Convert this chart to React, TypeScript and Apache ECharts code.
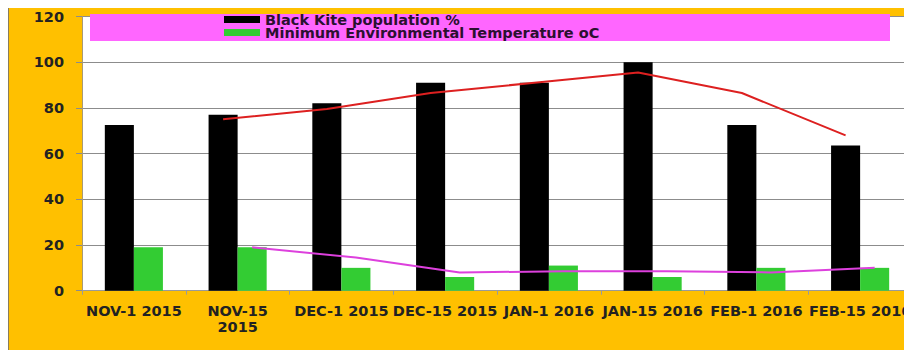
import React, { useEffect, useRef } from "react";
import * as echarts from "echarts";

const categories = [
  "NOV-1 2015",
  "NOV-15\n2015",
  "DEC-1 2015",
  "DEC-15 2015",
  "JAN-1 2016",
  "JAN-15 2016",
  "FEB-1 2016",
  "FEB-15 2016",
];
const kitePopulation = [72.5, 77, 82, 91, 91, 100, 72.5, 63.5];
const minTemperature = [19, 19, 10, 6, 11, 6, 10, 10];
const kiteTrend = [null, 75, 79.5, 86.5, 91, 95.5, 86.5, 68];
const tempTrend = [null, 19, 14.5, 8, 8.5, 8.5, 8, 10];
const yTicks = { min: 0, max: 120, interval: 20 };

const BAR_GAP = 0.44;
const BAR_OFFSET = (1 - BAR_GAP) / 4;

export default function App() {
  const ref = useRef<HTMLDivElement>(null);
  useEffect(() => {
    if (!ref.current) return;
    const chart = echarts.init(ref.current, null, { renderer: "svg" });
    const font = "DejaVu Sans";
    const trendPoints = (arr: (number | null)[], off: number) =>
      arr
        .map((v, i) => (v == null ? null : [i + off, v]))
        .filter((p) => p !== null);
    chart.setOption({
      animation: false,
      backgroundColor: "#ffffff",
      graphic: [
        {
          type: "rect",
          z: -10,
          silent: true,
          shape: { x: 8, y: 8, width: 896, height: 342 },
          style: { fill: "#FFC000" },
        },
        {
          type: "line",
          z: -9,
          silent: true,
          shape: { x1: 8.5, y1: 8, x2: 8.5, y2: 350 },
          style: { stroke: "#8a7d5c", lineWidth: 1 },
        },
        {
          type: "rect",
          z: 3,
          silent: true,
          shape: { x: 90, y: 14, width: 800, height: 27 },
          style: { fill: "#FF66FF" },
        },
      ],
      legend: {
        z: 5,
        orient: "vertical",
        left: 224,
        top: 12,
        padding: 0,
        itemWidth: 36,
        itemHeight: 7,
        itemGap: -2,
        icon: "rect",
        data: ["Black Kite population %", "Minimum Environmental Temperature oC"],
        textStyle: {
          fontFamily: font,
          fontWeight: "bold",
          fontSize: 14.5,
          lineHeight: 13,
          color: "#2b1030",
        },
      },
      grid: {
        left: 82,
        top: 16.5,
        width: 830,
        height: 274.2,
        show: true,
        backgroundColor: "#ffffff",
        borderWidth: 0,
        containLabel: false,
        outerBoundsMode: "none",
      },
      xAxis: [
        {
          type: "category",
          data: categories,
          axisLine: { show: true, lineStyle: { color: "#9a9a9a", width: 1 } },
          axisTick: { show: true, length: 4, lineStyle: { color: "#9a9a9a" } },
          axisLabel: {
            interval: 0,
            margin: 12,
            fontFamily: font,
            fontWeight: "bold",
            fontSize: 14.5,
            lineHeight: 16,
            color: "#222222",
          },
        },
        {
          type: "value",
          min: -0.5,
          max: 7.5,
          show: false,
        },
      ],
      yAxis: {
        type: "value",
        min: yTicks.min,
        max: yTicks.max,
        interval: yTicks.interval,
        axisLine: {
          show: true,
          onZero: false,
          lineStyle: { color: "#a89a78", width: 1 },
        },
        axisTick: { show: true, length: 6, lineStyle: { color: "#8c8c8c" } },
        splitLine: { show: true, lineStyle: { color: "#8c8c8c", width: 1 } },
        axisLabel: {
          margin: 18,
          fontFamily: font,
          fontWeight: "bold",
          fontSize: 14.5,
          color: "#222222",
        },
      },
      series: [
        {
          name: "Black Kite population %",
          type: "bar",
          data: kitePopulation,
          barGap: "0%",
          barCategoryGap: BAR_GAP * 100 + "%",
          itemStyle: { color: "#000000" },
        },
        {
          name: "Minimum Environmental Temperature oC",
          type: "bar",
          data: minTemperature,
          barGap: "0%",
          barCategoryGap: BAR_GAP * 100 + "%",
          itemStyle: { color: "#33CC33" },
        },
        {
          name: "kiteTrend",
          type: "line",
          xAxisIndex: 1,
          data: trendPoints(kiteTrend, -BAR_OFFSET),
          showSymbol: false,
          symbol: "none",
          lineStyle: { color: "#DD2020", width: 2 },
          z: 4,
        },
        {
          name: "tempTrend",
          type: "line",
          xAxisIndex: 1,
          data: trendPoints(tempTrend, BAR_OFFSET),
          showSymbol: false,
          symbol: "none",
          lineStyle: { color: "#DD40DD", width: 2 },
          z: 4,
        },
      ],
    });
    return () => chart.dispose();
  }, []);
  return (
    <div
      ref={ref}
      style={{ position: "fixed", left: 0, top: 0, width: 904, height: 350 }}
    />
  );
}
